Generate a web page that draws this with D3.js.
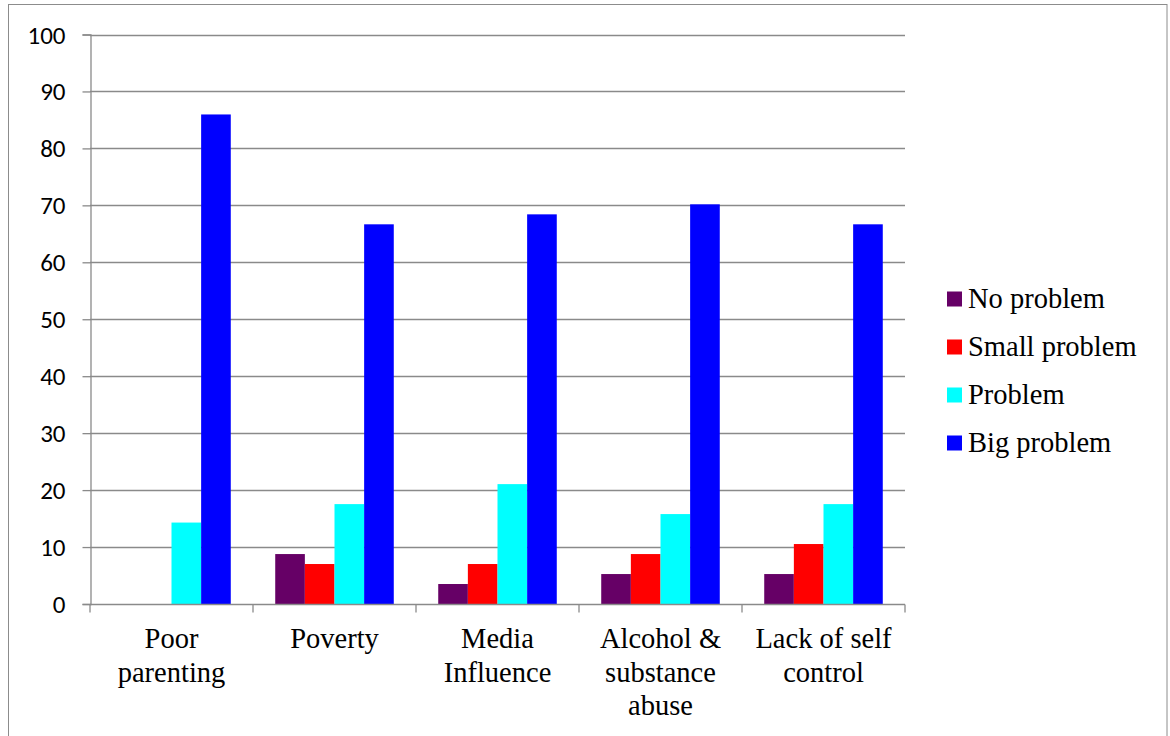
<!DOCTYPE html>
<html>
<head>
<meta charset="utf-8">
<script src="https://cdn.jsdelivr.net/npm/d3@7"></script>
<style>
  html, body { margin: 0; padding: 0; background: #fff; }
  svg { display: block; }
</style>
</head>
<body>
<svg id="chart" width="1170" height="736"></svg>
<script>
const categories = [["Poor", "parenting"], ["Poverty"], ["Media", "Influence"], ["Alcohol &", "substance", "abuse"], ["Lack of self", "control"]];
const seriesNames = ["No problem", "Small problem", "Problem", "Big problem"];
const seriesColors = ["#660066", "#FF0000", "#00FFFF", "#0000FF"];
const noProblem    = [0, 8.77, 3.51, 5.26, 5.26];
const smallProblem = [0, 7.02, 7.02, 8.77, 10.53];
const problem      = [14.3, 17.54, 21.05, 15.79, 17.54];
const bigProblem   = [85.96, 66.67, 68.42, 70.18, 66.67];
const yTicks = [0, 10, 20, 30, 40, 50, 60, 70, 80, 90, 100];

const series = [noProblem, smallProblem, problem, bigProblem];
const svg = d3.select("#chart");
const serifFont = "'Liberation Serif', 'Times New Roman', Times, serif";
const tickFont = "Carlito, Calibri, 'Liberation Sans', sans-serif";

// outer border
svg.append("rect").attr("x", 8.5).attr("y", 4.5).attr("width", 1158.5).attr("height", 740)
  .attr("fill", "none").attr("stroke", "#8c8c8c").attr("stroke-width", 1);

const pLeft = 90, pRight = 905, pTop = 34.5, pBottom = 604;
const catIdx = d3.range(categories.length);
const x0 = d3.scaleBand().domain(catIdx).range([pLeft, pRight]).paddingInner(0).paddingOuter(0);
const bw = x0.bandwidth() / 5.5;
const x1 = d3.scaleBand().domain(d3.range(series.length)).range([bw * 0.75, x0.bandwidth() - bw * 0.75]).padding(0);
const y = d3.scaleLinear().domain([0, 100]).range([pBottom, pTop]);

const gridColor = "#8a8a8a";

// gridlines
svg.append("g").selectAll("line").data(yTicks.filter(d => d > 0)).join("line")
  .attr("x1", pLeft).attr("x2", pRight)
  .attr("y1", d => Math.round(y(d)) + 0.5).attr("y2", d => Math.round(y(d)) + 0.5)
  .attr("stroke", gridColor).attr("stroke-width", 1.3);

// y axis
const yAxis = d3.axisLeft(y).tickValues(yTicks).tickSize(8).tickPadding(17).tickFormat(d3.format("d"));
const gy = svg.append("g").attr("transform", `translate(${pLeft + 0.5},0)`).call(yAxis);
gy.attr("font-family", tickFont);
gy.select(".domain").attr("stroke", gridColor).attr("stroke-width", 1.3);
gy.selectAll(".tick line").attr("stroke", gridColor).attr("stroke-width", 1.3);
gy.selectAll(".tick text").attr("font-family", tickFont)
  .attr("font-size", 25).attr("fill", "#000").attr("dy", "0.34em");

// bars
const groups = svg.append("g").selectAll("g").data(catIdx).join("g")
  .attr("transform", i => `translate(${x0(i)},0)`);
groups.selectAll("rect").data(i => series.map((s, k) => ({ k, v: s[i] }))).join("rect")
  .attr("x", d => x1(d.k))
  .attr("width", x1.bandwidth())
  .attr("y", d => y(d.v))
  .attr("height", d => pBottom - y(d.v))
  .attr("fill", d => seriesColors[d.k]);

// x axis
const xAxisG = svg.append("g").attr("transform", `translate(0,${pBottom + 0.5})`);
xAxisG.append("line").attr("x1", pLeft).attr("x2", pRight).attr("y1", 0).attr("y2", 0)
  .attr("stroke", gridColor).attr("stroke-width", 1.3);
const tickXs = catIdx.map(i => x0(i)).concat([pRight]);
xAxisG.selectAll("line.t").data(tickXs).join("line").attr("class", "t")
  .attr("x1", d => d).attr("x2", d => d).attr("y1", 0).attr("y2", 8)
  .attr("stroke", gridColor).attr("stroke-width", 1.3);

// category labels
const lab = svg.append("g").selectAll("text").data(catIdx).join("text")
  .attr("x", i => x0(i) + x0.bandwidth() / 2)
  .attr("y", 648)
  .attr("text-anchor", "middle")
  .attr("font-family", serifFont)
  .attr("font-size", 28.5).attr("fill", "#000");
lab.selectAll("tspan").data(i => categories[i].map((t, j) => ({ t, j, i }))).join("tspan")
  .attr("x", d => x0(d.i) + x0.bandwidth() / 2)
  .attr("dy", d => d.j === 0 ? 0 : 33.5)
  .text(d => d.t);

// legend
const legend = svg.append("g").selectAll("g").data(seriesNames).join("g")
  .attr("transform", (d, i) => `translate(947,${299 + i * 48})`);
legend.append("rect").attr("x", 0).attr("y", -7.5).attr("width", 15).attr("height", 15)
  .attr("fill", (d, i) => seriesColors[i]);
legend.append("text").attr("x", 21).attr("y", 9)
  .attr("font-family", serifFont)
  .attr("font-size", 28.5).attr("fill", "#000").text(d => d);
</script>
</body>
</html>
